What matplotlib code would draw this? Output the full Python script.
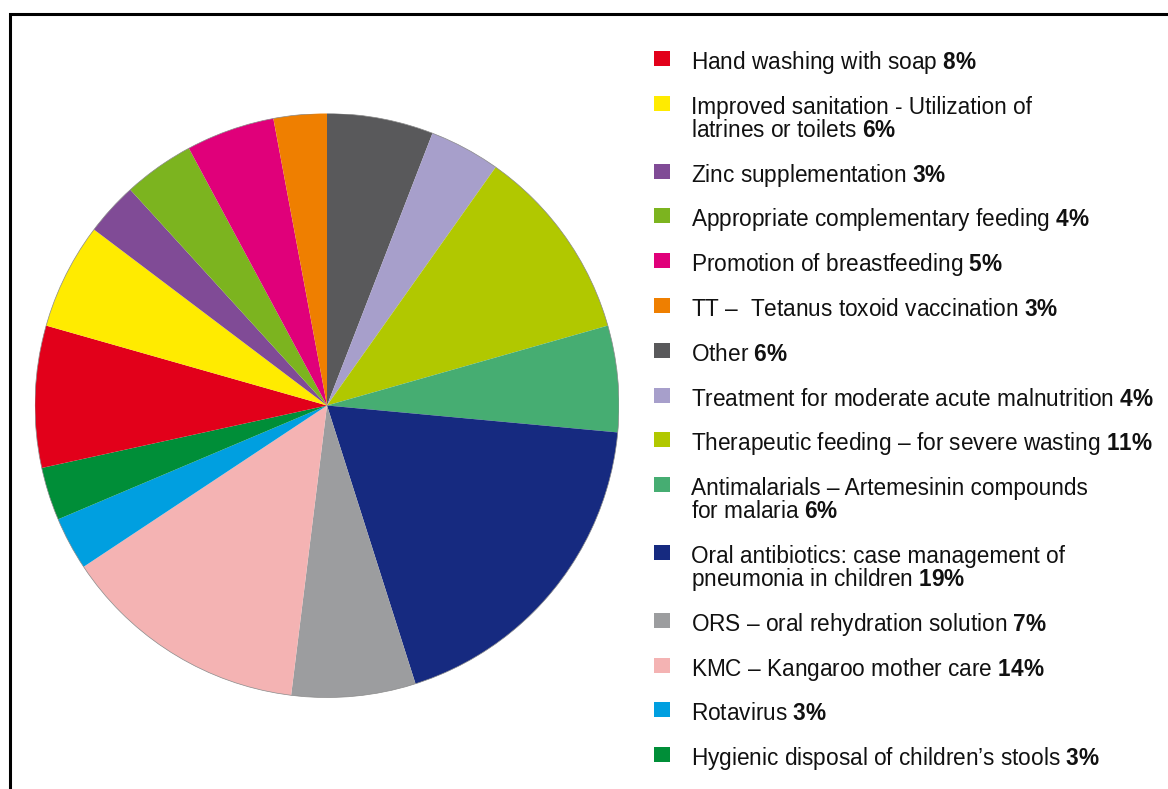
import matplotlib
matplotlib.use("Agg")
import matplotlib.pyplot as plt
from matplotlib.patches import Rectangle

plt.rcParams['font.family'] = ['Liberation Sans', 'DejaVu Sans']
plt.rcParams['mathtext.fontset'] = 'custom'
plt.rcParams['mathtext.rm'] = 'Liberation Sans'
plt.rcParams['mathtext.bf'] = 'Liberation Sans:bold'

# legend order (top to bottom); each entry may span two lines
labels = [
    ["Hand washing with soap"],
    ["Improved sanitation - Utilization of", "latrines or toilets"],
    ["Zinc supplementation"],
    ["Appropriate complementary feeding"],
    ["Promotion of breastfeeding"],
    ["TT \u2013  Tetanus toxoid vaccination"],
    ["Other"],
    ["Treatment for moderate acute malnutrition"],
    ["Therapeutic feeding \u2013 for severe wasting"],
    ["Antimalarials \u2013 Artemesinin compounds", "for malaria"],
    ["Oral antibiotics: case management of", "pneumonia in children"],
    ["ORS \u2013 oral rehydration solution"],
    ["KMC \u2013 Kangaroo mother care"],
    ["Rotavirus"],
    ["Hygienic disposal of children\u2019s stools"],
]
shares = [8, 6, 3, 4, 5, 3, 6, 4, 11, 6, 19, 7, 14, 3, 3]
colors = ["#e2001a", "#ffeb00", "#804b96", "#7cb41f", "#e0007a", "#ef7f00",
          "#59595b", "#a79fcb", "#b1c800", "#46ad72", "#162a80", "#9c9d9f",
          "#f4b3b3", "#009fe0", "#008e38"]

# the pie starts at 12 o'clock with "Other" and runs clockwise
first = 6
pie_vals = shares[first:] + shares[:first]
pie_cols = colors[first:] + colors[:first]

W, H = 1168, 789
fig = plt.figure(figsize=(W / 100, H / 100), dpi=100)


def fx(x):
    return x / W


def fy(y):
    return 1 - y / H


# pie
cx, cy, r = 327, 405.5, 292
ax = fig.add_axes([fx(cx - r), fy(cy + r), 2 * r / W, 2 * r / H])
ax.pie(pie_vals, colors=pie_cols, startangle=90, counterclock=False,
       radius=1, wedgeprops=dict(linewidth=0))
circle = plt.Circle((0, 0), 1, fill=False, edgecolor="#8a8a8a", linewidth=0.5)
ax.add_patch(circle)
ax.set_xlim(-1, 1)
ax.set_ylim(-1, 1)
ax.set_aspect("equal")
ax.axis("off")

# legend drawn by hand
base = 69
for lines, val, col in zip(labels, shares, colors):
    fig.patches.append(Rectangle((fx(654), fy(base - 3)), 16 / W, 15 / H,
                                 transform=fig.transFigure, facecolor=col,
                                 edgecolor="none"))
    for i, line in enumerate(lines):
        txt = line
        if i == len(lines) - 1:
            txt = line + r" $\mathbf{" + str(val) + r"\%}$"
        fig.text(fx(691), fy(base + 23 * i), txt, fontsize=16.3,
                 color="#111111", va="baseline", ha="left")
    base += 44.8 + 23 * (len(lines) - 1)

# outer frame
fig.patches.append(Rectangle((fx(10), fy(800)), 1200 / W, 786 / H,
                             transform=fig.transFigure, fill=False,
                             edgecolor="black", linewidth=2.2))

fig.savefig("out.png", dpi=100)
